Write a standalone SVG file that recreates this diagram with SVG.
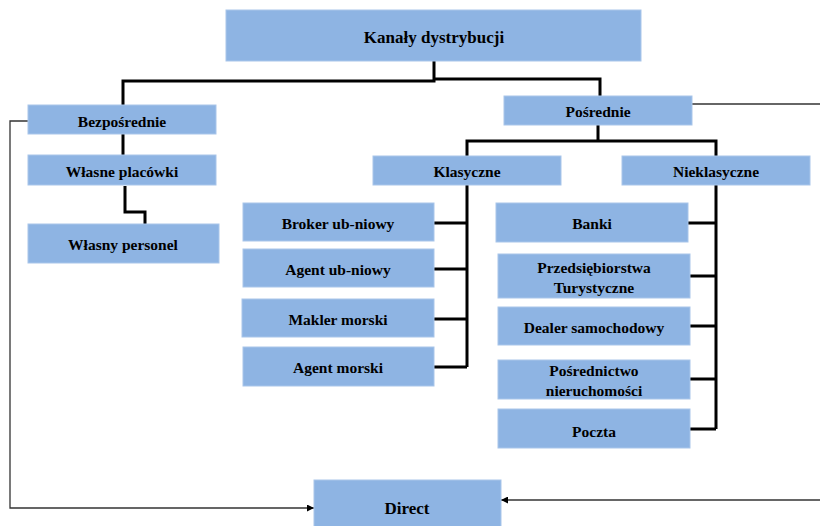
<svg xmlns="http://www.w3.org/2000/svg" width="820" height="526" viewBox="0 0 820 526">
  <style>
    .box { fill: #8EB4E3; stroke: #A9C6EA; stroke-width: 1; }
    .lbl { font-family: "Liberation Serif", "DejaVu Serif", serif; font-weight: bold; font-size: 15.5px; fill: #000; text-anchor: middle; dominant-baseline: central; }
    .big { font-size: 17px; }
    .tree { fill: none; stroke: #000; stroke-width: 3; stroke-linejoin: miter; }
    .thin { fill: none; stroke: #333; stroke-width: 1.3; }
  </style>
  <defs>
    <marker id="arr" viewBox="0 0 10 10" refX="10" refY="5" markerWidth="7" markerHeight="7" markerUnits="userSpaceOnUse" orient="auto">
      <path d="M0,0 L10,5 L0,10 z" fill="#000"/>
    </marker>
  </defs>

  <rect width="820" height="526" fill="#fff"/>

  <g id="connectors">
    <!-- root split -->
    <path class="tree" d="M434,61 V81 H123 V105"/>
    <path class="tree" d="M434,79 H600 V96"/>
    <!-- direct branch -->
    <path class="tree" d="M123,134 V155"/>
    <path class="tree" d="M125,186 V212 H145 V224"/>
    <!-- indirect split -->
    <path class="tree" d="M598,125 V141 M467,156 V141 H716 V156"/>
    <!-- classic spine -->
    <path class="tree" d="M467,185 V367 M434,223 H467 M434,269 H467 M434,319 H467 M434,367 H467"/>
    <!-- non-classic spine -->
    <path class="tree" d="M716,185 V429 M688,223 H716 M690,276 H716 M690,326 H716 M690,379 H716 M690,429 H716"/>
    <!-- feedback lines to Direct -->
    <path class="thin" d="M28,121 H10 V508 H314" marker-end="url(#arr)"/>
    <path class="thin" d="M692,104 H820"/>
    <path class="thin" d="M820,500 H501" marker-end="url(#arr)"/>
  </g>

  <g id="kanaly"><rect class="box" x="226" y="10" width="415" height="51"/><text class="lbl big" x="434" y="37">Kanały dystrybucji</text></g>
  <g id="bezposrednie"><rect class="box" x="28" y="105" width="188" height="29"/><text class="lbl" x="122" y="121">Bezpośrednie</text></g>
  <g id="wlasne-placowki"><rect class="box" x="28" y="155" width="188" height="30"/><text class="lbl" x="122" y="171">Własne placówki</text></g>
  <g id="wlasny-personel"><rect class="box" x="28" y="224" width="191" height="39"/><text class="lbl" x="123" y="244">Własny personel</text></g>
  <g id="posrednie"><rect class="box" x="504" y="96" width="188" height="29"/><text class="lbl" x="598" y="111">Pośrednie</text></g>
  <g id="klasyczne"><rect class="box" x="373" y="156" width="188" height="29"/><text class="lbl" x="467" y="171">Klasyczne</text></g>
  <g id="nieklasyczne"><rect class="box" x="622" y="156" width="188" height="29"/><text class="lbl" x="716" y="171">Nieklasyczne</text></g>

  <g id="broker"><rect class="box" x="243" y="203" width="191" height="38"/><text class="lbl" x="338" y="223">Broker ub-niowy</text></g>
  <g id="agent-ub"><rect class="box" x="243" y="249" width="191" height="38"/><text class="lbl" x="338" y="269">Agent ub-niowy</text></g>
  <g id="makler"><rect class="box" x="242" y="299" width="192" height="38"/><text class="lbl" x="338" y="319">Makler morski</text></g>
  <g id="agent-morski"><rect class="box" x="243" y="347" width="191" height="39"/><text class="lbl" x="338" y="367">Agent morski</text></g>

  <g id="banki"><rect class="box" x="496" y="203" width="192" height="39"/><text class="lbl" x="592" y="223">Banki</text></g>
  <g id="przedsiebiorstwa"><rect class="box" x="498" y="254" width="192" height="44"/><text class="lbl" x="594" y="267">Przedsiębiorstwa</text><text class="lbl" x="594" y="287">Turystyczne</text></g>
  <g id="dealer"><rect class="box" x="498" y="307" width="192" height="38"/><text class="lbl" x="594" y="327">Dealer samochodowy</text></g>
  <g id="posrednictwo"><rect class="box" x="498" y="360" width="192" height="39"/><text class="lbl" x="594" y="370">Pośrednictwo</text><text class="lbl" x="594" y="390">nieruchomości</text></g>
  <g id="poczta"><rect class="box" x="498" y="409" width="192" height="39"/><text class="lbl" x="594" y="431">Poczta</text></g>

  <g id="direct"><rect class="box" x="314" y="480" width="187" height="47"/><text class="lbl big" x="407" y="508">Direct</text></g>
</svg>
